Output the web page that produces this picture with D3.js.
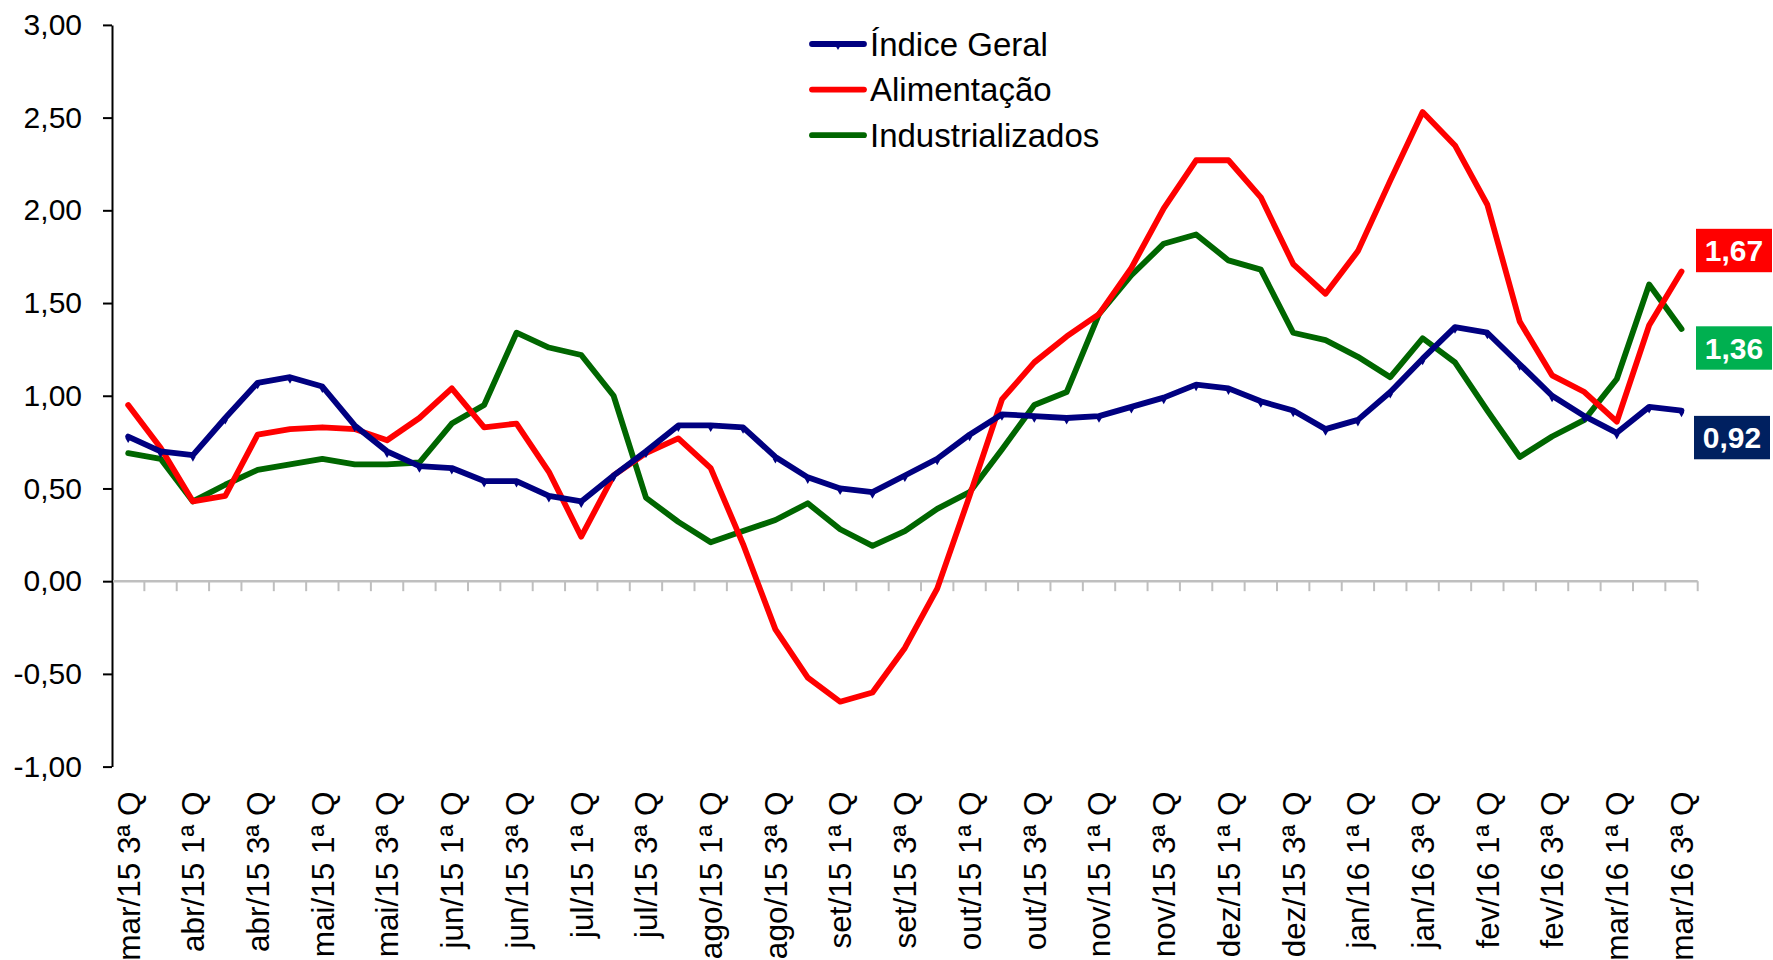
<!DOCTYPE html>
<html>
<head>
<meta charset="utf-8">
<script src="https://cdn.jsdelivr.net/npm/d3@7"></script>
<style>
  body { margin: 0; background: #fff; }
  text { font-family: "Liberation Sans", Arial, sans-serif; }
</style>
</head>
<body>
<div id="chart"></div>
<script>
// categories (quadrissemanas), only every other one gets a label
var categories = [
  "mar/15 3ª Q", "mar/15 4ª Q", "abr/15 1ª Q", "abr/15 2ª Q", "abr/15 3ª Q", "abr/15 4ª Q",
  "mai/15 1ª Q", "mai/15 2ª Q", "mai/15 3ª Q", "mai/15 4ª Q", "jun/15 1ª Q", "jun/15 2ª Q",
  "jun/15 3ª Q", "jun/15 4ª Q", "jul/15 1ª Q", "jul/15 2ª Q", "jul/15 3ª Q", "jul/15 4ª Q",
  "ago/15 1ª Q", "ago/15 2ª Q", "ago/15 3ª Q", "ago/15 4ª Q", "set/15 1ª Q", "set/15 2ª Q",
  "set/15 3ª Q", "set/15 4ª Q", "out/15 1ª Q", "out/15 2ª Q", "out/15 3ª Q", "out/15 4ª Q",
  "nov/15 1ª Q", "nov/15 2ª Q", "nov/15 3ª Q", "nov/15 4ª Q", "dez/15 1ª Q", "dez/15 2ª Q",
  "dez/15 3ª Q", "dez/15 4ª Q", "jan/16 1ª Q", "jan/16 2ª Q", "jan/16 3ª Q", "jan/16 4ª Q",
  "fev/16 1ª Q", "fev/16 2ª Q", "fev/16 3ª Q", "fev/16 4ª Q", "mar/16 1ª Q", "mar/16 2ª Q",
  "mar/16 3ª Q"
];

var indiceGeral = [0.78, 0.70, 0.68, 0.88, 1.07, 1.10, 1.05, 0.84, 0.70, 0.62,
  0.61, 0.54, 0.54, 0.46, 0.43, 0.57, 0.70, 0.84, 0.84, 0.83,
  0.67, 0.56, 0.50, 0.48, 0.57, 0.66, 0.79, 0.90, 0.89, 0.88,
  0.89, 0.94, 0.99, 1.06, 1.04, 0.97, 0.92, 0.82, 0.87, 1.02,
  1.20, 1.37, 1.34, 1.17, 1.00, 0.89, 0.80, 0.94, 0.92];

var alimentacao = [0.95, 0.72, 0.43, 0.46, 0.79, 0.82, 0.83, 0.82, 0.76, 0.88,
  1.04, 0.83, 0.85, 0.59, 0.24, 0.57, 0.69, 0.77, 0.61, 0.20,
  -0.26, -0.52, -0.65, -0.60, -0.36, -0.04, 0.46, 0.98, 1.18, 1.32,
  1.44, 1.69, 2.01, 2.27, 2.27, 2.07, 1.71, 1.55, 1.78, 2.16,
  2.53, 2.35, 2.03, 1.40, 1.11, 1.02, 0.86, 1.38, 1.67];

var industrializados = [0.69, 0.66, 0.43, 0.52, 0.60, 0.63, 0.66, 0.63, 0.63, 0.64,
  0.85, 0.95, 1.34, 1.26, 1.22, 1.00, 0.45, 0.32, 0.21, 0.27,
  0.33, 0.42, 0.28, 0.19, 0.27, 0.39, 0.48, 0.71, 0.95, 1.02,
  1.44, 1.65, 1.82, 1.87, 1.73, 1.68, 1.34, 1.30, 1.21, 1.10,
  1.31, 1.18, 0.92, 0.67, 0.78, 0.87, 1.09, 1.60, 1.36];

var yTicks = [3, 2.5, 2, 1.5, 1, 0.5, 0, -0.5, -1];

var seriesNames = ["Índice Geral", "Alimentação", "Industrializados"];
var seriesColors = ["#000080", "#ff0000", "#006600"];
var boxColors = ["#002060", "#ff0000", "#00b050"];
var series = [indiceGeral, alimentacao, industrializados];

// svg size and plot area
var svgWidth = 1773;
var svgHeight = 960;
var plot = { left: 112, right: 1697.7, top: 24.9, bottom: 766.6 };

// excel style number: comma decimal, plain hyphen
var fmt = function(v) { return d3.format(".2f")(v).replace(".", ",").replace("\u2212", "-"); };

var svg = d3.select("#chart").append("svg")
  .attr("width", svgWidth)
  .attr("height", svgHeight);

var xScale = d3.scaleBand()
  .domain(categories)
  .range([plot.left, plot.right])
  .padding(0);

var yScale = d3.scaleLinear()
  .domain([-1, 3])
  .range([plot.bottom, plot.top]);

var xCenter = function(i) { return xScale(categories[i]) + xScale.bandwidth() / 2; };

// y axis
var yAxis = d3.axisLeft(yScale)
  .tickValues(yTicks)
  .tickFormat(fmt)
  .tickSize(9)
  .tickSizeOuter(0)
  .tickPadding(21);

var yAxisGrp = svg.append("g")
  .attr("transform", `translate(${plot.left},0)`)
  .call(yAxis);
yAxisGrp.select(".domain").attr("stroke", "#000").attr("stroke-width", 2);
yAxisGrp.selectAll(".tick line").attr("stroke", "#000").attr("stroke-width", 2);
yAxisGrp.selectAll(".tick text")
  .attr("font-family", "Liberation Sans, Arial, sans-serif")
  .attr("font-size", 30)
  .attr("fill", "#000");

// category axis on the zero line, ticks between categories
var zeroY = yScale(0);
var xAxisGrp = svg.append("g");
xAxisGrp.append("line")
  .attr("x1", plot.left + 1).attr("x2", plot.right)
  .attr("y1", zeroY).attr("y2", zeroY)
  .attr("stroke", "#bfbfbf")
  .attr("stroke-width", 2.5);
xAxisGrp.selectAll("line.tk")
  .data(categories.slice(1))
  .enter()
  .append("line")
  .attr("class", "tk")
  .attr("x1", d => xScale(d)).attr("x2", d => xScale(d))
  .attr("y1", zeroY).attr("y2", zeroY + 10)
  .attr("stroke", "#bfbfbf")
  .attr("stroke-width", 2);
xAxisGrp.append("line")
  .attr("x1", plot.right).attr("x2", plot.right)
  .attr("y1", zeroY).attr("y2", zeroY + 10)
  .attr("stroke", "#bfbfbf")
  .attr("stroke-width", 2);

// category labels, rotated, below the plot
svg.append("g").selectAll("text")
  .data(categories.filter((d, i) => i % 2 === 0))
  .enter()
  .append("text")
  .attr("transform", d => `translate(${xScale(d) + xScale.bandwidth() / 2},${plot.bottom + 25}) rotate(-90)`)
  .attr("dy", "0.36em")
  .attr("text-anchor", "end")
  .attr("font-size", 31.5)
  .attr("fill", "#000")
  .text(d => d);

// lines
var line = d3.line()
  .x((d, i) => xCenter(i))
  .y(d => yScale(d));

// draw order: green, red, blue on top
[2, 1, 0].forEach(function(s) {
  svg.append("path")
    .datum(series[s])
    .attr("d", line)
    .attr("fill", "none")
    .attr("stroke", seriesColors[s])
    .attr("stroke-width", 5.8)
    .attr("stroke-linejoin", "round")
    .attr("stroke-linecap", "round");
});

// tiny markers on Índice Geral
svg.append("g").selectAll("path")
  .data(indiceGeral)
  .enter()
  .append("path")
  .attr("d", d3.symbol().type(d3.symbolDiamond).size(24))
  .attr("transform", (d, i) => `translate(${xCenter(i)},${yScale(d) + 2})`)
  .attr("fill", seriesColors[0]);

// legend
var legend = svg.append("g").attr("transform", "translate(810,44)");
seriesNames.forEach(function(name, i) {
  var row = legend.append("g").attr("transform", `translate(0,${i * 45.6})`);
  row.append("line")
    .attr("x1", 2).attr("x2", 54)
    .attr("stroke", seriesColors[i])
    .attr("stroke-width", 5.8)
    .attr("stroke-linecap", "round");
  if (i === 0) {
    row.append("path")
      .attr("d", d3.symbol().type(d3.symbolDiamond).size(24))
      .attr("transform", "translate(28,1.5)")
      .attr("fill", seriesColors[0]);
  }
  row.append("text")
    .attr("x", 60)
    .attr("y", 0)
    .attr("dy", "0.36em")
    .attr("font-size", 33)
    .attr("fill", "#000")
    .text(name);
});

// last value boxes
var boxOffsets = [27, -21, 19];
var boxX = [1694, 1696, 1696];
series.forEach(function(values, s) {
  var last = values[values.length - 1];
  var cy = yScale(last) + boxOffsets[s];
  var g = svg.append("g");
  g.append("rect")
    .attr("x", boxX[s])
    .attr("y", cy - 21.7)
    .attr("width", 76)
    .attr("height", 43.4)
    .attr("fill", boxColors[s]);
  g.append("text")
    .attr("x", boxX[s] + 38)
    .attr("y", cy)
    .attr("dy", "0.36em")
    .attr("text-anchor", "middle")
    .attr("font-size", 30)
    .attr("font-weight", "bold")
    .attr("fill", "#fff")
    .text(fmt(last));
});
</script>
</body>
</html>
